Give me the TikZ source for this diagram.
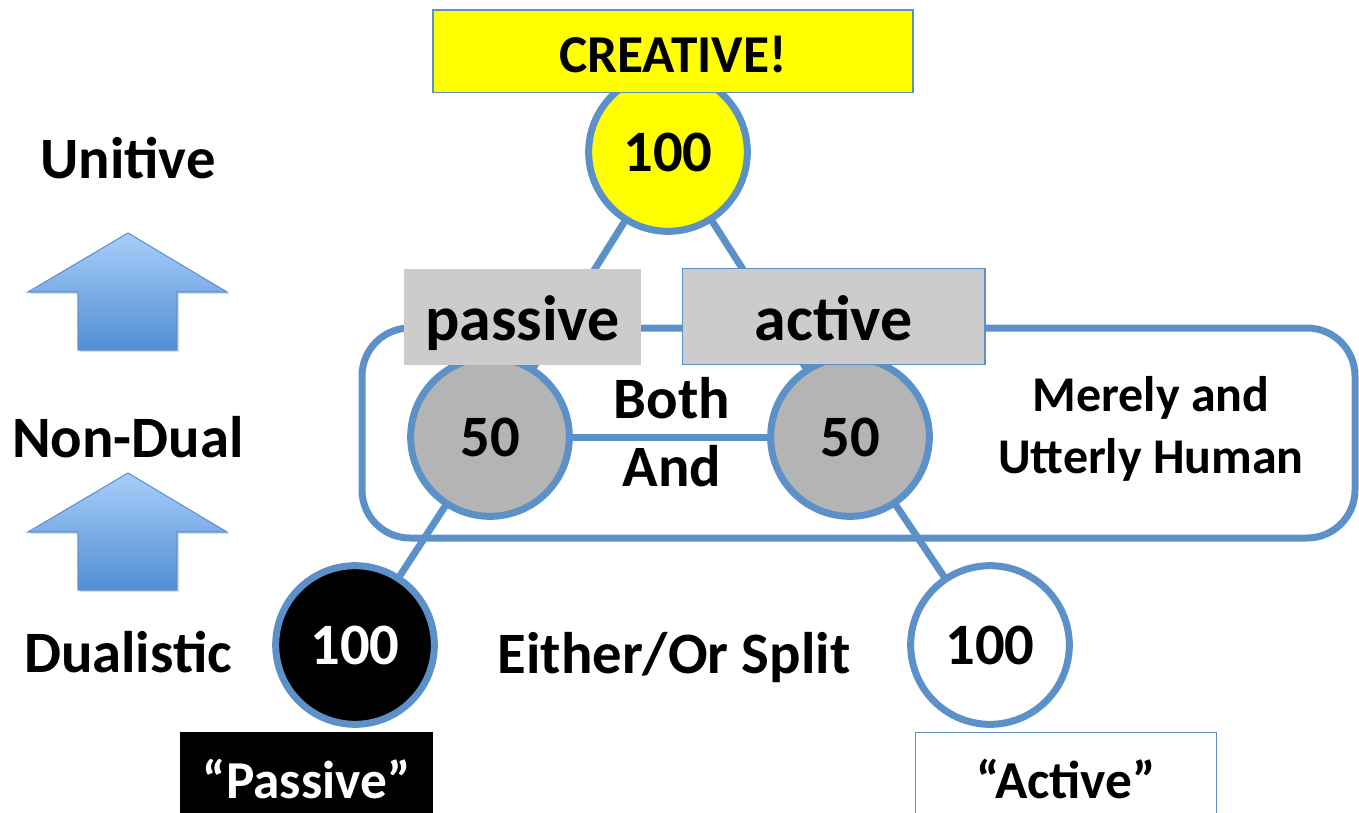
\documentclass[tikz,border=0pt]{standalone}
\usepackage{fontspec}
\setmainfont{Carlito}
\usetikzlibrary{shadows}
\definecolor{ln}{RGB}{92,144,200}
\definecolor{cgray}{RGB}{180,180,180}
\definecolor{bgray}{RGB}{204,204,204}
\definecolor{yel}{RGB}{255,255,0}
\definecolor{arT}{RGB}{168,206,250}
\definecolor{arB}{RGB}{82,142,212}
\definecolor{arL}{RGB}{96,146,206}
\begin{document}
\begin{tikzpicture}[x=0.75pt,y=-0.75pt,
  big/.style={font=\fontsize{44}{44}\selectfont\bfseries},
  mid/.style={font=\fontsize{40}{40}\selectfont\bfseries},
  huge/.style={font=\fontsize{48}{48}\selectfont\bfseries},
  circ/.style={circle, draw=ln, line width=5.25pt, minimum size=119pt, inner sep=0pt, big,
    drop shadow={opacity=0.25, shadow xshift=1.5pt, shadow yshift=-1.5pt}},
  lab/.style={big, inner sep=0pt, align=center},
  conn/.style={draw=ln, line width=5.25pt},
  upar/.style={top color=arT, bottom color=arB, draw=arL, line width=0.8pt,
    drop shadow={opacity=0.25, shadow xshift=1.5pt, shadow yshift=-1.5pt}},
]
\path[use as bounding box] (0,0) rectangle (1359,813);

% left arrows
\shade[upar] (128,233) -- (227,292) -- (177,292) -- (177,350) -- (78,350) -- (78,292) -- (28,292) -- cycle;
\shade[upar] (128,473) -- (227,532) -- (177,532) -- (177,590) -- (78,590) -- (78,532) -- (28,532) -- cycle;

% left labels
\node[lab] (unit) at (128,158) {Unitive};
\node[lab] (nond) at (128,437) {Non-Dual};
\node[lab] (dual) at (128,652) {Dualistic};

% circles positions
\coordinate (ctop) at (668,152);
\coordinate (cl) at (490,437);
\coordinate (cr) at (850,437);
\coordinate (cb) at (355,645);
\coordinate (cw) at (990,645);

% connectors
\draw[conn] (ctop) -- (cl);
\draw[conn] (ctop) -- (cr);
\draw[conn] (cl) -- (cb);
\draw[conn] (cr) -- (cw);
\draw[conn] (cl) -- (cr);

% rounded frame
\draw[conn, rounded corners=36pt] (362,328) rectangle (1355,538);

% circles
\node[circ, fill=yel] (top) at (ctop) {100};
\node[circ, fill=cgray] (fl) at (cl) {50};
\node[circ, fill=cgray] (fr) at (cr) {50};
\node[circ, fill=black, text=white] (blk) at (cb) {100};
\node[circ, fill=white] (wht) at (cw) {100};

% boxes
\node[fill=yel, draw=ln, line width=1pt, minimum width=360pt, minimum height=62pt, inner sep=0pt] (creative) at (673,51.5) {};
\node[mid, anchor=base, inner sep=0pt] (creativet) at (673,73) {CREATIVE!};
\node[fill=bgray, minimum width=178pt, minimum height=72pt, inner sep=0pt] (passive) at (522.5,317) {};
\node[huge, anchor=base, inner sep=0pt] (passivet) at (522.5,340) {passive};
\node[fill=bgray, draw=ln, line width=1pt, minimum width=227pt, minimum height=72pt, inner sep=0pt] (active) at (833.5,316.5) {};
\node[huge, anchor=base, inner sep=0pt] (activet) at (833.5,340) {active};
\node[mid, fill=black, text=white, minimum width=190pt, minimum height=70pt, inner sep=0pt] (pq) at (306.5,779) {“Passive”};
\node[mid, fill=white, draw=ln, line width=1pt, minimum width=226pt, minimum height=70pt, inner sep=0pt] (aq) at (1066,779) {“Active”};

% texts
\node[lab] (both) at (672,398) {Both};
\node[lab] (and) at (672,466) {And};
\node[lab, font=\fontsize{37.5}{46}\selectfont\bfseries] (mere) at (1151,429) {Merely and\\Utterly Human};
\node[lab] (split) at (674,658) {Either/Or Split};
\end{tikzpicture}
\end{document}
